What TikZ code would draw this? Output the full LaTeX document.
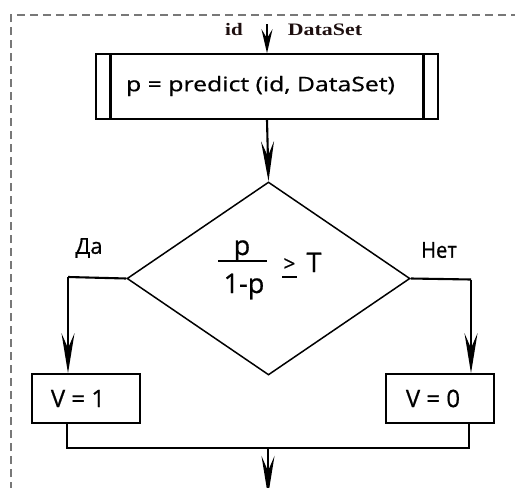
\documentclass[tikz,border=0pt]{standalone}
\usepackage{fontspec}
\setmainfont{Open Sans}[FakeBold=0.6]
\newfontfamily\serifb{Liberation Serif}[BoldFont={Liberation Serif Bold}]
\usetikzlibrary{shapes.geometric,arrows.meta,calc}
\definecolor{bordergray}{RGB}{120,120,120}
\definecolor{inkdark}{RGB}{30,15,15}
\tikzset{
  conn/.style={line width=2.1pt,-{Stealth[length=40pt,width=13pt,inset=15pt]}},
  connshort/.style={line width=2.1pt,-{Stealth[length=24pt,width=11pt,inset=9pt]}},
  plain/.style={line width=2.1pt},
  box/.style={draw,line width=1.5pt,rectangle,inner sep=0pt},
  lbl/.style={font=\fontsize{20}{22}\selectfont,inner sep=0pt},
  inlbl/.style={font=\serifb\bfseries\fontsize{17.5}{19}\selectfont,text=inkdark,inner sep=0pt,anchor=base}
}
\begin{document}
\begin{tikzpicture}[x=1pt,y=-1pt]
\useasboundingbox (0,0) rectangle (515,488);
% dashed frame
\draw[bordergray,line width=1.3pt,dash pattern=on 8pt off 5pt] (11,490) -- (11,15) -- (520,15);

% predict box
\node[box,minimum width=342pt,minimum height=65pt] (pred) at (267,86.5) {};
\node[lbl,font=\fontsize{20}{22}\selectfont] (predtxt) at (260.5,86) {\scalebox{1.24}[1]{p = predict (id, DataSet)}};
\draw[line width=3pt] ($(pred.north west)+(15,0)$) coordinate (bl1) -- ($(pred.south west)+(15,0)$) coordinate (bl2);
\draw[line width=3pt] ($(pred.north east)+(-15,0)$) coordinate (br1) -- ($(pred.south east)+(-15,0)$) coordinate (br2);

% inputs
\coordinate (in) at (267,24);
\node[inlbl] (idl) at (234,35) {\scalebox{1.2}[1]{id}};
\node[inlbl] (dsl) at (325,35) {\scalebox{1.25}[1]{DataSet}};
\draw[connshort] (in) -- (pred.north);

% decision
\node[draw,diamond,line width=1.5pt,minimum width=283pt,minimum height=193pt,inner sep=0pt] (dia) at (268.5,278.5) {};
\draw[conn] (pred.south) -- (dia.north);

% fraction text
\node[font=\fontsize{27}{30}\selectfont,inner sep=0pt,anchor=base] (fp) at (242,255) {p};
\node[font=\fontsize{27}{30}\selectfont,inner sep=0pt,anchor=base] (fq) at (244,293) {1-p};
\draw[line width=1.5pt] (218,261) coordinate (fb1) -- (267,261) coordinate (fb2);
\node[font=\fontsize{21}{24}\selectfont,inner sep=0pt,anchor=base] (ge) at (289.5,271) {>};
\draw[line width=1.3pt] (282,277) coordinate (ge1) -- (297,277) coordinate (ge2);
\node[font=\fontsize{27}{30}\selectfont,inner sep=0pt,anchor=base] (tt) at (314,272) {T};

% result boxes
\node[box,minimum width=108pt,minimum height=49pt] (v1) at (86,398.5) {};
\node[lbl,font=\fontsize{24}{26}\selectfont] (v1t) at (78,398.5) {V = 1};
\node[box,minimum width=108pt,minimum height=49pt] (v0) at (440,398.5) {};
\node[lbl,font=\fontsize{24}{26}\selectfont] (v0t) at (433,398.5) {V = 0};

% branches
\coordinate (cL) at (68,277);
\coordinate (cR) at (471,279.5);
\draw[plain] (dia.west) -- (cL);
\draw[conn] (cL) -- (cL |- v1.north);
\draw[plain] (dia.east) -- (cR);
\draw[conn] (cR) -- (cR |- v0.north);
\node[lbl,font=\fontsize{22}{25}\selectfont] (da) at (89,248) {Да};
\node[lbl,font=\fontsize{22}{25}\selectfont] (net) at (439,250) {\scalebox{0.92}[1]{Нет}};

% merge
\coordinate (mL) at (67,448);
\coordinate (mR) at (469,448);
\coordinate (mC) at (268,448);
\coordinate (out) at (268,496);
\draw[plain] (mL |- v1.south) -- (mL) -- (mR) -- (mR |- v0.south);
\draw[conn] (mC) -- (out);
\end{tikzpicture}
\end{document}
